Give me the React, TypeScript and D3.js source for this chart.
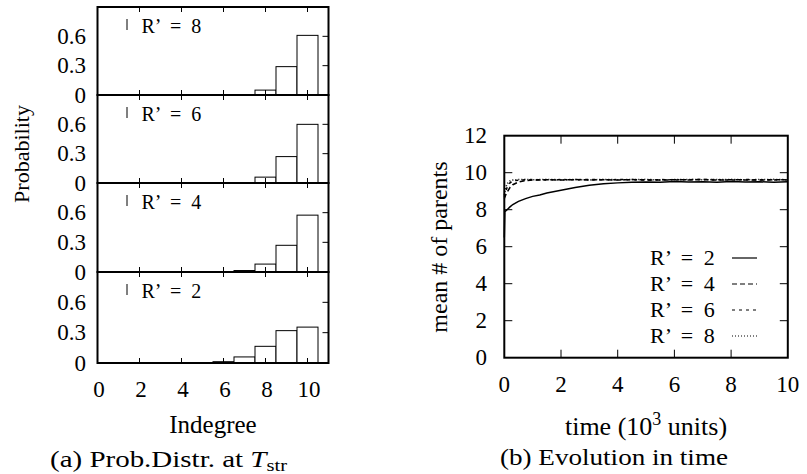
import React from "react";
import * as d3 from "d3";

// ---- data ----
const indegree = [6, 7, 8, 9, 10];
const probR8 = [0, 0, 0.05, 0.29, 0.61];
const probR6 = [0, 0, 0.06, 0.27, 0.6];
const probR4 = [0, 0.015, 0.08, 0.27, 0.575];
const probR2 = [0.013, 0.06, 0.165, 0.32, 0.355];
const histLabels = ["R\u2019 = 8", "R\u2019 = 6", "R\u2019 = 4", "R\u2019 = 2"];
const histTicksX = [0, 2, 4, 6, 8, 10];
const histTicksY = [0, 0.3, 0.6];

const timeR2 = [0, 0.02, 0.1, 0.2, 0.3, 0.5, 0.75, 1, 1.25, 1.5, 2, 2.5, 3, 3.5, 4, 4.5, 5, 5.5, 6, 6.5, 7, 7.5, 8, 8.5, 9, 9.5, 10];
const meanR2 = [6.5, 7.9, 8.0, 8.15, 8.28, 8.45, 8.6, 8.72, 8.8, 8.9, 9.05, 9.2, 9.32, 9.4, 9.45, 9.48, 9.5, 9.49, 9.52, 9.5, 9.51, 9.49, 9.52, 9.5, 9.51, 9.49, 9.51];
const timeFast = [0, 0.05, 0.1, 0.2, 0.3, 0.5, 0.75, 1, 1.5, 2, 2.5, 3, 3.5, 4, 4.5, 5, 5.5, 6, 6.5, 7, 7.5, 8, 8.5, 9, 9.5, 10];
const meanR4 = [8.6, 8.8, 8.95, 9.2, 9.35, 9.5, 9.57, 9.6, 9.62, 9.6, 9.63, 9.61, 9.62, 9.6, 9.63, 9.61, 9.6, 9.62, 9.61, 9.63, 9.6, 9.62, 9.61, 9.6, 9.62, 9.61];
const meanR6 = [8.7, 9.0, 9.2, 9.45, 9.55, 9.6, 9.62, 9.63, 9.61, 9.63, 9.62, 9.64, 9.61, 9.63, 9.62, 9.6, 9.63, 9.61, 9.62, 9.64, 9.62, 9.6, 9.63, 9.62, 9.61, 9.63];
const meanR8 = [8.8, 9.2, 9.4, 9.55, 9.6, 9.63, 9.64, 9.62, 9.64, 9.62, 9.63, 9.61, 9.64, 9.62, 9.63, 9.64, 9.61, 9.63, 9.64, 9.62, 9.63, 9.64, 9.62, 9.63, 9.64, 9.62];
const evoLabels = ["R\u2019 = 2", "R\u2019 = 4", "R\u2019 = 6", "R\u2019 = 8"];
const evoDash = ["none", "5,3", "3,4", "1,2"];
const evoTicksX = [0, 2, 4, 6, 8, 10];
const evoTicksY = [0, 2, 4, 6, 8, 10, 12];

const FONT = "Liberation Serif";

function Histograms() {
  const probs = [probR8, probR6, probR4, probR2];
  const edges = [7, 95, 183, 272, 363];
  const x = d3.scaleLinear().domain([0, 11]).range([97.5, 328.5]);
  return (
    <g>
      {probs.map((p, i) => {
        const top = edges[i];
        const bottom = edges[i + 1];
        const y = d3.scaleLinear().domain([0, 0.9]).range([bottom, top]);
        return (
          <g key={i}>
            {indegree.map((d, j) =>
              p[j] > 0 ? (
                <rect
                  key={d}
                  x={x(d - 0.5)}
                  y={y(p[j])}
                  width={x(d + 0.5) - x(d - 0.5)}
                  height={y(0) - y(p[j])}
                  fill="white"
                  stroke="black"
                  strokeWidth={1}
                />
              ) : null
            )}
            {histTicksX.slice(1).map((t) => (
              <g key={t}>
                <line x1={x(t)} x2={x(t)} y1={bottom} y2={bottom - 5} stroke="black" />
                <line x1={x(t)} x2={x(t)} y1={top} y2={top + 5} stroke="black" />
              </g>
            ))}
            {histTicksY.slice(1).map((t) => (
              <line key={t} x1={x(11)} x2={x(11) - 6} y1={y(t)} y2={y(t)} stroke="black" />
            ))}
            {histTicksY.map((t) => (
              <text key={t} x={86} y={y(t) + 7.5} textAnchor="end" fontSize={23} fontFamily={FONT}>
                {t}
              </text>
            ))}
            <line x1={127} x2={127} y1={top + 12} y2={top + 23} stroke="black" />
            <text x={141.5} y={top + 26} fontSize={20} fontFamily={FONT} wordSpacing={5}>
              {histLabels[i]}
            </text>
            <rect x={x(0)} y={top} width={x(11) - x(0)} height={bottom - top} fill="none" stroke="black" strokeWidth={2} />
          </g>
        );
      })}
      {histTicksX.map((t) => (
        <text key={t} x={x(t) + 1.5} y={397} textAnchor="middle" fontSize={23} fontFamily={FONT}>
          {t}
        </text>
      ))}
      <text x={213} y={433} textAnchor="middle" fontSize={25} fontFamily={FONT}>
        Indegree
      </text>
      <text transform="translate(29,154) rotate(-90)" textAnchor="middle" fontSize={22} fontFamily={FONT}>
        Probability
      </text>
    </g>
  );
}

function Evolution() {
  const x = d3.scaleLinear().domain([0, 10]).range([504.3, 787.8]);
  const y = d3.scaleLinear().domain([0, 12]).range([357.7, 135.7]);
  const series = [
    { t: timeR2, v: meanR2 },
    { t: timeFast, v: meanR4 },
    { t: timeFast, v: meanR6 },
    { t: timeFast, v: meanR8 },
  ];
  const line = d3.line<[number, number]>().x((d) => x(d[0])).y((d) => y(d[1]));
  return (
    <g>
      {series.map((s, i) => (
        <path
          key={i}
          d={line(s.t.map((t, k) => [t, s.v[k]] as [number, number])) || ""}
          fill="none"
          stroke="black"
          strokeWidth={1.5}
          strokeDasharray={evoDash[i]}
        />
      ))}
      {evoTicksY.slice(1, -1).map((t) => (
        <g key={t}>
          <line x1={x(0)} x2={x(0) + 8} y1={y(t)} y2={y(t)} stroke="black" />
          <line x1={x(10)} x2={x(10) - 8} y1={y(t)} y2={y(t)} stroke="black" />
        </g>
      ))}
      {evoTicksX.slice(1, -1).map((t) => (
        <g key={t}>
          <line x1={x(t)} x2={x(t)} y1={y(0)} y2={y(0) - 8} stroke="black" />
          <line x1={x(t)} x2={x(t)} y1={y(12)} y2={y(12) + 8} stroke="black" />
        </g>
      ))}
      {evoTicksY.map((t) => (
        <text key={t} x={487} y={y(t) + 7.5} textAnchor="end" fontSize={23} fontFamily={FONT}>
          {t}
        </text>
      ))}
      {evoTicksX.map((t) => (
        <text key={t} x={x(t)} y={392} textAnchor="middle" fontSize={23} fontFamily={FONT}>
          {t}
        </text>
      ))}
      {evoLabels.map((l, i) => (
        <g key={l}>
          <text x={650} y={265 + i * 26} fontSize={22} fontFamily={FONT} wordSpacing={5}>
            {l}
          </text>
          <line
            x1={732}
            x2={757}
            y1={258 + i * 26}
            y2={258 + i * 26}
            stroke="black"
            strokeWidth={1.2}
            strokeDasharray={evoDash[i]}
          />
        </g>
      ))}
      <rect x={x(0)} y={y(12)} width={x(10) - x(0)} height={y(0) - y(12)} fill="none" stroke="black" strokeWidth={2} />
      <text x={646} y={435} textAnchor="middle" fontSize={26} fontFamily={FONT}>
        time (10<tspan dy={-10} fontSize={18}>3</tspan>
        <tspan dy={10}> units)</tspan>
      </text>
      <text transform="translate(447,247) rotate(-90)" textAnchor="middle" fontSize={24} fontFamily={FONT}>
        mean # of parents
      </text>
    </g>
  );
}

export default function App() {
  return (
    <div style={{ position: "absolute", left: 0, top: 0 }}>
      <svg width={807} height={474} style={{ display: "block", background: "white" }}>
        <Histograms />
        <Evolution />
        <text x={50} y={467} fontSize={24} fontFamily={FONT} textLength={237} lengthAdjust="spacingAndGlyphs">
          (a) Prob.Distr. at <tspan fontStyle="italic">T</tspan>
          <tspan dy={4} fontSize={17}>str</tspan>
        </text>
        <text x={500} y={465} fontSize={24} fontFamily={FONT} textLength={228} lengthAdjust="spacingAndGlyphs">
          (b) Evolution in time
        </text>
      </svg>
    </div>
  );
}
